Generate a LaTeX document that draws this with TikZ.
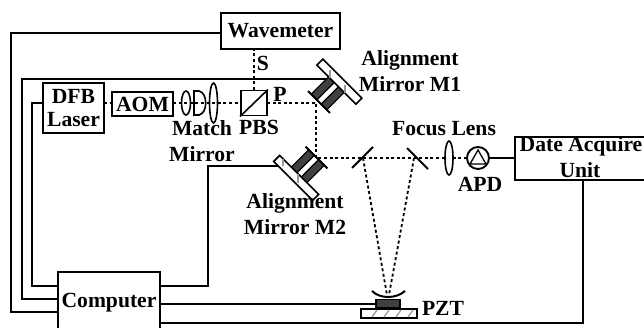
\documentclass[tikz,border=0pt]{standalone}
\usepackage{fontspec}
\setmainfont{Liberation Serif}
\usetikzlibrary{calc}
\definecolor{dk}{gray}{0.25}
\definecolor{hg}{gray}{0.6}
\tikzset{
  wire/.style={line width=1.9pt,black},
  beam/.style={line width=1.8pt,dash pattern=on 3pt off 2.6pt},
  boxn/.style={draw,line width=1.9pt,fill=white,inner sep=0pt,font=\bfseries\fontsize{21.6}{24}\selectfont,align=center},
  lab/.style={inner sep=0pt,font=\bfseries\fontsize{21.6}{26}\selectfont,align=center},
  optic/.style={draw,line width=1.6pt,fill=white},
  axes m/.style={x={(0.7071pt,-0.7071pt)},y={(#1*0.7071pt,#1*0.7071pt)}},
}
\newcommand{\mirrorassy}{%
  \filldraw[fill=dk,draw=black,line width=1.1pt] (-11,0) -- (-3,0) -- (-3,25) -- (-11,25) -- cycle;
  \filldraw[fill=dk,draw=black,line width=1.1pt] (3,0) -- (11,0) -- (11,25) -- (3,25) -- cycle;
  \filldraw[fill=white,draw=black,line width=1.6pt] (-27.5,24.5) -- (27.5,24.5) -- (27.5,33) -- (-27.5,33) -- cycle;
  \draw[line width=2pt] (-15.5,0) -- (15.5,0);
}
\begin{document}
\begin{tikzpicture}[x=1pt,y=-1pt]
\useasboundingbox (0,0) rectangle (644,327);
\clip (0,0) rectangle (644,327);
% boxes
\node[boxn,minimum width=119pt,minimum height=36pt] (wm) at (280.5,31) {Wavemeter};
\node[boxn,minimum width=61pt,minimum height=50pt] (dfb) at (73.5,108) {DFB\\[-1pt]Laser};
\node[boxn,minimum width=61pt,minimum height=24pt] (aom) at (142.5,104) {AOM};
\node[boxn,minimum width=26pt,minimum height=25pt] (pbs) at (254,103) {};
\node[boxn,minimum width=102pt,minimum height=70pt] (comp) at (109,307) {};
\node[lab] (comptext) at (109,302.5) {Computer};
\node[boxn,minimum width=140pt,minimum height=43pt,anchor=north west] (daq) at (514,136) {};
\node[lab,anchor=base] (daqtext) at (581,151) {Date Acquire};
\node[lab,anchor=base] (daqtextb) at (580,177) {Unit};
\coordinate (m1c) at (326,79);
\coordinate (m2c) at (286,166);
% wires
\draw[wire] ($(wm.west)+(0,2)$) -- (11,33) |- (58,312);
\draw[wire] (m1c) -- (22,79) |- (58,299);
\draw[wire] ($(dfb.west)+(0,-5)$) -- (32,103) |- (58,286);
\draw[wire] (160,286) -- (208,286) |- (m2c);
\draw[wire] (160,304) -- (376,304);
\draw[wire] (160,323) -- (583,323) -- (583,179);
% beams
\draw[beam] (254,90) -- (254,49);
\draw[beam] (104,103) -- (112,103);
\draw[beam] (173,103) -- (241,103);
\draw[beam] (267,103) -- (316,103) -- (316,158) -- (467,158);
\draw[beam] (363,158) -- (387,295);
\draw[beam] (414,158) -- (389,295);
% lenses
\draw[line width=1.6pt] (186,103) ellipse (4.5 and 12);
\draw[line width=1.6pt] (194,91) -- (199,91) .. controls (208,93) and (208,113) .. (199,115) -- (194,115) -- cycle;
\draw[line width=1.6pt] (213.5,103) ellipse (4 and 20);
\draw[optic] (449,158) ellipse (4 and 17);
% PBS
\draw[line width=1.6pt] (pbs.south west) -- (pbs.north east);
% APD
\node[draw,circle,line width=1.9pt,fill=white,minimum size=22pt,inner sep=0pt] (apd) at (478,158) {};
\draw[line width=1.3pt] (470,164) -- (478,150) -- (486,164) -- cycle;
\draw[wire] (apd.east) -- (daq.west |- apd.east);
% fold mirrors
\draw[line width=1.9pt] (352,168) -- (373,147);
\draw[line width=1.9pt] (407,148) -- (428,169);
% M1
\begin{scope}[shift={(319,102)},axes m=1]
\mirrorassy
\end{scope}
\draw[hg,line width=1.2pt] (330,70) -- (330,78) (345,85) -- (345,93);
% M2
\begin{scope}[shift={(316.5,157.5)},axes m=-1]
\mirrorassy
\end{scope}
\draw[hg,line width=1.2pt] (283,159) -- (283,166) (298,174) -- (298,183);
% PZT
\draw[line width=2pt] (372,291) .. controls (380,299) and (396,299) .. (405,291);
\node[draw=black,fill=dk,line width=1.2pt,minimum width=24pt,minimum height=7.5pt,inner sep=0pt] (pztb) at (388,303.5) {};
\node[draw,line width=1.6pt,minimum width=56pt,minimum height=9pt,inner sep=0pt] (pzts) at (389,313.5) {};
\foreach \x in {372,384,396,408} \draw[hg,line width=1.3pt] (\x,317) -- (\x+5,310);
% labels
\node[lab] (ls) at (263,63) {S};
\node[lab] (lp) at (280,94) {P};
\node[lab] (lmatch) at (202,128) {Match};
\node[lab] (lmirror) at (202,154) {Mirror};
\node[lab] (lpbs) at (259,127) {PBS};
\node[lab] (lm1) at (410,71.5) {Alignment\\Mirror M1};
\node[lab] (lfl) at (444,129) {Focus Lens};
\node[lab] (lapd) at (480,184) {APD};
\node[lab] (lm2) at (295,214.5) {Alignment\\Mirror M2};
\node[lab] (lpzt) at (443,308) {PZT};
\end{tikzpicture}
\end{document}
